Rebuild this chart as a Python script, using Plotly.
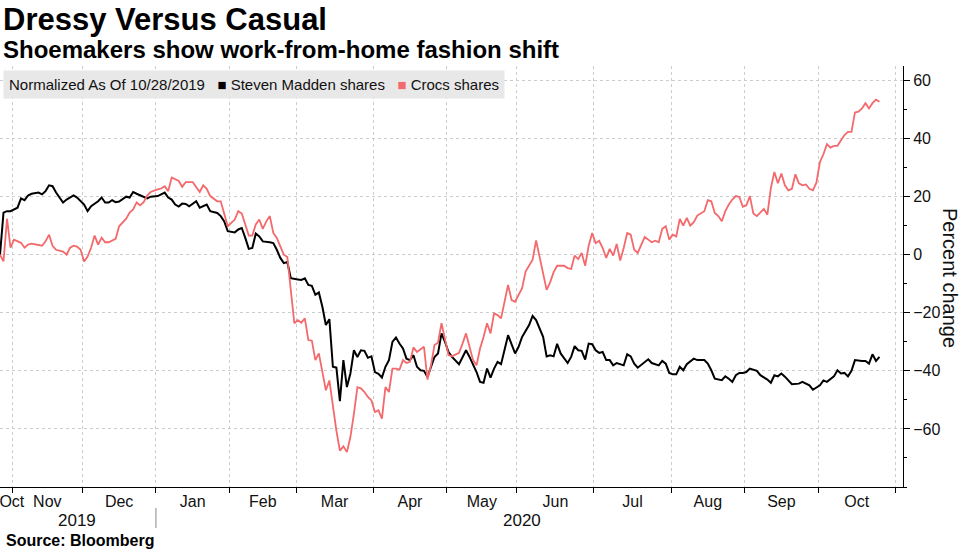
import plotly.graph_objects as go

# ---------------- data ----------------
sm_dates = [
    "2019-10-28", "2019-10-29", "2019-10-30", "2019-10-31",
    "2019-11-04", "2019-11-05", "2019-11-06", "2019-11-07", "2019-11-08", "2019-11-12", "2019-11-13", "2019-11-14",
    "2019-11-15", "2019-11-18", "2019-11-19", "2019-11-20", "2019-11-21", "2019-11-22", "2019-11-26", "2019-11-27",
    "2019-12-02", "2019-12-03", "2019-12-04", "2019-12-06", "2019-12-09", "2019-12-10", "2019-12-11", "2019-12-12",
    "2019-12-13", "2019-12-16", "2019-12-18", "2019-12-19", "2019-12-20", "2019-12-23", "2019-12-26", "2019-12-27",
    "2019-12-30",
    "2020-01-02", "2020-01-03", "2020-01-06", "2020-01-07", "2020-01-08", "2020-01-09", "2020-01-10", "2020-01-13",
    "2020-01-14", "2020-01-15", "2020-01-17", "2020-01-21", "2020-01-23", "2020-01-24", "2020-01-28", "2020-01-29",
    "2020-01-30", "2020-01-31",
    "2020-02-04", "2020-02-05", "2020-02-06", "2020-02-07", "2020-02-10", "2020-02-11", "2020-02-12", "2020-02-13",
    "2020-02-14", "2020-02-19", "2020-02-20", "2020-02-21", "2020-02-24", "2020-02-25", "2020-02-26", "2020-02-27",
    "2020-02-28",
    "2020-03-02", "2020-03-03", "2020-03-04", "2020-03-05", "2020-03-06", "2020-03-09", "2020-03-10", "2020-03-11",
    "2020-03-12", "2020-03-13", "2020-03-16", "2020-03-17", "2020-03-18", "2020-03-19", "2020-03-20", "2020-03-23",
    "2020-03-24", "2020-03-25", "2020-03-26", "2020-03-27", "2020-03-30", "2020-03-31",
    "2020-04-01", "2020-04-02", "2020-04-03", "2020-04-06", "2020-04-07", "2020-04-08", "2020-04-09", "2020-04-13",
    "2020-04-14", "2020-04-15", "2020-04-16", "2020-04-17", "2020-04-20", "2020-04-21", "2020-04-22", "2020-04-23",
    "2020-04-24", "2020-04-27", "2020-04-28", "2020-04-29", "2020-04-30",
    "2020-05-01", "2020-05-04", "2020-05-05", "2020-05-06", "2020-05-08", "2020-05-11", "2020-05-13", "2020-05-14",
    "2020-05-15", "2020-05-18", "2020-05-19", "2020-05-20", "2020-05-21", "2020-05-22", "2020-05-27", "2020-05-28",
    "2020-05-29",
    "2020-06-01", "2020-06-02", "2020-06-04", "2020-06-05", "2020-06-08", "2020-06-10", "2020-06-11", "2020-06-12",
    "2020-06-15", "2020-06-16", "2020-06-17", "2020-06-19", "2020-06-22", "2020-06-23", "2020-06-24", "2020-06-25",
    "2020-06-26", "2020-06-29", "2020-06-30",
    "2020-07-01", "2020-07-02", "2020-07-06", "2020-07-07", "2020-07-08", "2020-07-09", "2020-07-10", "2020-07-14",
    "2020-07-15", "2020-07-16", "2020-07-17", "2020-07-20", "2020-07-22", "2020-07-23", "2020-07-24", "2020-07-28",
    "2020-07-29", "2020-07-30", "2020-07-31",
    "2020-08-03", "2020-08-04", "2020-08-05", "2020-08-06", "2020-08-07", "2020-08-11", "2020-08-12", "2020-08-14",
    "2020-08-17", "2020-08-18", "2020-08-19", "2020-08-21", "2020-08-24", "2020-08-25", "2020-08-26", "2020-08-27",
    "2020-08-28", "2020-08-31",
    "2020-09-01", "2020-09-02", "2020-09-04", "2020-09-08", "2020-09-10", "2020-09-11", "2020-09-14", "2020-09-15",
    "2020-09-16", "2020-09-17", "2020-09-18", "2020-09-21", "2020-09-23", "2020-09-24", "2020-09-28", "2020-09-29",
    "2020-10-01", "2020-10-02", "2020-10-05", "2020-10-07", "2020-10-08", "2020-10-09", "2020-10-12", "2020-10-13",
    "2020-10-14", "2020-10-15", "2020-10-19", "2020-10-20", "2020-10-21", "2020-10-22", "2020-10-23", "2020-10-26",
]
sm_values = [
    0, 14.5, 15, 15,
    16.2, 19.4, 18.8, 20.4, 21, 21.4, 20.8, 21.9,
    23.9, 23.6, 21.4, 19.7, 18, 19, 20.4, 19.7,
    17.3, 15, 16.7, 18.4, 19.7, 18, 18, 18.8,
    18.1, 18.3, 20, 19.7, 21.6, 21, 20, 19.4,
    20,
    20.2, 20.8, 21.4, 19.7, 19, 17.3, 16.6, 17.6,
    17.5, 16.7, 18.4, 16.2, 17.3, 15, 14.4, 13.3,
    11.5, 8.1,
    7.7, 8.7, 9.2, 5.8, 2, 2.3, 7.3, 6.3,
    4.6, 4.3, 4, 1.7, -1.1, -2.9, -2.5, -8.1,
    -8.4,
    -8.5, -8.7, -8.1, -10.4, -10.7, -13.8, -13, -17.9,
    -24.2, -22.2, -38.6, -38.9, -50.4, -36.3, -45.6, -40.9,
    -32.9, -35.2, -32.9, -33.1, -35.5, -35,
    -40.4, -41, -42.3, -38.6, -36.3, -30, -28.5, -30.6,
    -32.3, -35.8, -36.3, -34.6, -38.6, -39.8, -40, -42.1,
    -38.6, -35.2, -34, -27.1, -30,
    -33.5, -35.2, -36.3, -37.7, -32.9, -35.2, -40.4, -43.8,
    -44.1, -39.2, -42.3, -39.2, -36.9, -37.7, -27.7, -30.6,
    -34,
    -31.7, -28.3, -24.2, -21.1, -22.5, -28.3, -35, -34.6,
    -35, -30.7, -34, -37.3, -35.2, -31.5, -32.9, -33.1,
    -36.1, -30.6, -30.8,
    -32.9, -33.8, -33.5, -36.3, -36.3, -38.1, -37.3, -38.1,
    -34.3, -35, -37.5, -38.9, -36.9, -36, -37.3, -38.1,
    -36.6, -37.5, -40.7,
    -41.2, -41.2, -38.6, -39.8, -37.7, -35.8, -36.3, -36.3,
    -37.5, -39.8, -42.7, -43.2, -41.9, -42.7, -43.8, -41.5,
    -40.7, -40.7,
    -40.4, -39.2, -40, -41.5, -43, -44.1, -41.5, -41.9,
    -40.9, -42, -43.3, -44.6, -44.4, -43.8, -45, -46.5,
    -45, -43.3, -43.8, -41.9, -39.8, -40.9, -40.7, -41.9,
    -40, -36.3, -36.6, -36.6, -37.5, -34.3, -36.6, -35.2,
]

crocs_dates = [
    "2019-10-28", "2019-10-29", "2019-10-30", "2019-10-31",
    "2019-11-01", "2019-11-05", "2019-11-06", "2019-11-07", "2019-11-08", "2019-11-12", "2019-11-13", "2019-11-14",
    "2019-11-15", "2019-11-18", "2019-11-19", "2019-11-21", "2019-11-22", "2019-11-25", "2019-11-26", "2019-11-27",
    "2019-11-29",
    "2019-12-02", "2019-12-03", "2019-12-04", "2019-12-05", "2019-12-06", "2019-12-09", "2019-12-10", "2019-12-11",
    "2019-12-13", "2019-12-16", "2019-12-18", "2019-12-19", "2019-12-20", "2019-12-23", "2019-12-24", "2019-12-26",
    "2019-12-27", "2019-12-30",
    "2020-01-02", "2020-01-03", "2020-01-06", "2020-01-07", "2020-01-08", "2020-01-10", "2020-01-13", "2020-01-14",
    "2020-01-16", "2020-01-21", "2020-01-22", "2020-01-23", "2020-01-24", "2020-01-28", "2020-01-29", "2020-01-30",
    "2020-01-31",
    "2020-02-04", "2020-02-05", "2020-02-06", "2020-02-07", "2020-02-10", "2020-02-11", "2020-02-12", "2020-02-13",
    "2020-02-14", "2020-02-18", "2020-02-19", "2020-02-20", "2020-02-21", "2020-02-24", "2020-02-25", "2020-02-26",
    "2020-02-27", "2020-02-28",
    "2020-03-02", "2020-03-03", "2020-03-04", "2020-03-05", "2020-03-06", "2020-03-09", "2020-03-10", "2020-03-11",
    "2020-03-12", "2020-03-13", "2020-03-16", "2020-03-17", "2020-03-18", "2020-03-19", "2020-03-20", "2020-03-23",
    "2020-03-24", "2020-03-25", "2020-03-26", "2020-03-27", "2020-03-30", "2020-03-31",
    "2020-04-01", "2020-04-02", "2020-04-03", "2020-04-06", "2020-04-07", "2020-04-08", "2020-04-09", "2020-04-13",
    "2020-04-14", "2020-04-15", "2020-04-16", "2020-04-17", "2020-04-20", "2020-04-21", "2020-04-22", "2020-04-23",
    "2020-04-24", "2020-04-27", "2020-04-28", "2020-04-29", "2020-04-30",
    "2020-05-01", "2020-05-04", "2020-05-06", "2020-05-07", "2020-05-08", "2020-05-11", "2020-05-12", "2020-05-13",
    "2020-05-14", "2020-05-15", "2020-05-18", "2020-05-19", "2020-05-20", "2020-05-21", "2020-05-22", "2020-05-27",
    "2020-05-28", "2020-05-29",
    "2020-06-01", "2020-06-02", "2020-06-03", "2020-06-05", "2020-06-08", "2020-06-09", "2020-06-10", "2020-06-11",
    "2020-06-12", "2020-06-15", "2020-06-16", "2020-06-18", "2020-06-19", "2020-06-22", "2020-06-23", "2020-06-24",
    "2020-06-25", "2020-06-26", "2020-06-29", "2020-06-30",
    "2020-07-01", "2020-07-02", "2020-07-06", "2020-07-07", "2020-07-08", "2020-07-09", "2020-07-10", "2020-07-13",
    "2020-07-14", "2020-07-15", "2020-07-16", "2020-07-17", "2020-07-20", "2020-07-21", "2020-07-22", "2020-07-23",
    "2020-07-24", "2020-07-27", "2020-07-28", "2020-07-29", "2020-07-30", "2020-07-31",
    "2020-08-03", "2020-08-04", "2020-08-05", "2020-08-06", "2020-08-07", "2020-08-10", "2020-08-11", "2020-08-12",
    "2020-08-14", "2020-08-17", "2020-08-18", "2020-08-19", "2020-08-20", "2020-08-21", "2020-08-24", "2020-08-25",
    "2020-08-26", "2020-08-27", "2020-08-28", "2020-08-31",
    "2020-09-01", "2020-09-02", "2020-09-03", "2020-09-04", "2020-09-08", "2020-09-09", "2020-09-10", "2020-09-11",
    "2020-09-14", "2020-09-15", "2020-09-16", "2020-09-17", "2020-09-18", "2020-09-21", "2020-09-22", "2020-09-23",
    "2020-09-24", "2020-09-25", "2020-09-28", "2020-09-29", "2020-09-30",
    "2020-10-01", "2020-10-02", "2020-10-05", "2020-10-06", "2020-10-07", "2020-10-08", "2020-10-09", "2020-10-12",
    "2020-10-13", "2020-10-14", "2020-10-15", "2020-10-16", "2020-10-19", "2020-10-20", "2020-10-21", "2020-10-22",
    "2020-10-23", "2020-10-26",
]
crocs_values = [
    0, -2.3, 12.4, 2.4,
    5.2, 4.1, 2.4, 3.5, 3.8, 3.5, 3.1, 4.6,
    6.9, 3.1, 1.7, 1.1, 0, 2.4, 3.1, 2.8,
    1.7,
    -2.3, -0.6, 2.4, 6.6, 3.5, 5.9, 4.3, 4.3,
    5.5, 9.8, 12.4, 14.5, 15.6, 18, 17, 18.1,
    20.4, 21.6,
    22.5, 22.8, 23.6, 21.9, 26.6, 25.4, 23.4, 25,
    25, 21.6, 23.9, 22.7, 20.2, 18.4, 18.4, 14.4,
    9.8,
    12.1, 15, 14.2, 10, 6.6, 6.6, 10.4, 12.1,
    8.9, 11.5, 13.3, 7.5, 5.8, 2.9, 0, -0.8,
    -12, -23.6,
    -22.5, -23.4, -21.9, -29.4, -29.6, -36.3, -34, -40.9,
    -46.7, -43.3, -52.5, -60.6, -67.5, -66, -68, -62.8,
    -54.8, -45.6, -46, -47.3, -49, -50.2,
    -54.2, -53.6, -56.5, -45.6, -47.3, -39.2, -39.2, -39.6,
    -36.3, -37.3, -36.9, -31.9, -33.5, -32.7, -31.7, -43,
    -38.1, -31.1, -30.3, -23.6, -28.8,
    -34.6, -35, -33.8, -30.6, -27.1, -31.7, -36.3, -38.1,
    -32.3, -28.3, -23.6, -27.1, -20.2, -20.8, -21.9, -10.4,
    -15.6, -16.2,
    -13.8, -11.5, -5.8, -1.7, 4.9, -1.1, -6.3, -12.1,
    -9.5, -6, -3.8, -3.8, -4.6, -4.9, -0.3, -1.5,
    0.6, -3.8, 3.1, 7.5,
    4, 4.8, 2.3, -1.1, 2, -0.3, 3.7, -2,
    2.3, 7.5, 6.9, 1.7, 0.6, 3.5, 6.1, 5.2,
    4.3, 4.8, 4.3, 8.9, 9.8, 5.2,
    6.9, 6.3, 12.3, 10, 12.7, 10, 11.2, 13.5,
    15, 18.8, 18.4, 14.4, 13.3, 11.5, 15, 17.3,
    19, 20.2, 19.9, 16.5,
    17, 20.2, 14.2, 13.3, 14.4, 15.8, 13.8, 23,
    28.5, 24.6, 28, 23.9, 22.2, 22.7, 27.7, 24.6,
    23.9, 24.2, 22.7, 22.2, 24.8,
    31.9, 34.6, 38.1, 36.9, 37.5, 37.5, 39.2, 41.2,
    42.3, 42.3, 49, 49.3, 50.4, 52.2, 50.4, 52.2,
    53.4, 52.7,
]

# US market holidays in the window (the x axis is a trading-day axis)
market_holidays = ["2019-11-28", "2019-12-25", "2020-01-01", "2020-01-20", "2020-02-17",
                   "2020-04-10", "2020-05-25", "2020-07-03", "2020-09-07"]

# boundaries between months (half a day after each month's last session)
month_bounds = ["2019-10-31 12:00", "2019-11-29 12:00", "2019-12-31 12:00", "2020-01-31 12:00",
                "2020-02-28 12:00", "2020-03-31 12:00", "2020-04-30 12:00", "2020-05-29 12:00",
                "2020-06-30 12:00", "2020-07-31 12:00", "2020-08-31 12:00", "2020-09-30 12:00",
                "2020-10-30 12:00"]
month_label_pos = ["2019-10-31 09:00", "2019-11-14 12:00", "2019-12-16", "2020-01-16", "2020-02-14",
                   "2020-03-16 12:00", "2020-04-16", "2020-05-14 12:00", "2020-06-15 12:00",
                   "2020-07-16 12:00", "2020-08-17", "2020-09-16", "2020-10-15 12:00"]
month_labels = ["Oct", "Nov", "Dec", "Jan", "Feb", "Mar", "Apr", "May", "Jun", "Jul", "Aug", "Sep", "Oct"]
year_label_pos = ["2019-11-27", "2020-06-02"]
year_labels = ["2019", "2020"]
year_separator = "2019-12-31 12:00"

y_major = [-60, -40, -20, 0, 20, 40, 60]
y_minor = [-80, -70, -50, -30, -10, 10, 30, 50]

# ---------------- styling ----------------
W, H = 977, 549
ML, MR, MT, MB = 0, 74, 66, 62
PW, PH = W - ML - MR, H - MT - MB
FONT = "Liberation Sans, Arial, sans-serif"
RED = "#f4696b"
GRID = "#cccccc"
TXT = "#111111"


def px(xp):
    return (xp - ML) / PW


def py(yp):
    return (H - MB - yp) / PH


fig = go.Figure()
fig.add_trace(go.Scatter(x=sm_dates, y=sm_values, mode="lines", name="Steven Madden shares",
                         line=dict(color="#000000", width=2), showlegend=False, hoverinfo="skip"))
fig.add_trace(go.Scatter(x=crocs_dates, y=crocs_values, mode="lines", name="Crocs shares",
                         line=dict(color=RED, width=1.8), showlegend=False, hoverinfo="skip"))

fig.update_layout(
    width=W, height=H,
    margin=dict(l=ML, r=MR, t=MT, b=MB, pad=0),
    paper_bgcolor="white", plot_bgcolor="white",
    font=dict(family=FONT, color=TXT),
    showlegend=False,
    xaxis=dict(
        type="date",
        range=["2019-10-28", "2020-11-03 17:00"],
        rangebreaks=[dict(bounds=["sat", "mon"]), dict(values=market_holidays)],
        tickmode="array", tickvals=month_label_pos, ticktext=month_labels,
        ticks="", showgrid=False, zeroline=False,
        showline=True, linecolor="black", linewidth=1,
        ticklabeloverflow="allow",
        tickfont=dict(family=FONT, size=16, color=TXT),
        minor=dict(tickmode="array", tickvals=month_bounds, ticks="outside", ticklen=5,
                   tickcolor="black", tickwidth=1, showgrid=True, gridcolor=GRID,
                   griddash="dot", gridwidth=1),
    ),
    yaxis=dict(
        side="right", range=[-80, 65],
        tickmode="array", tickvals=y_major,
        ticks="outside", ticklen=6, tickcolor="black", tickwidth=1,
        showline=True, linecolor="black", linewidth=1,
        showgrid=True, gridcolor=GRID, griddash="dot", gridwidth=1,
        zeroline=False,
        tickfont=dict(family=FONT, size=16, color=TXT),
        minor=dict(tickmode="array", tickvals=y_minor, ticks="outside", ticklen=3,
                   tickcolor="black", showgrid=False),
    ),
)

ann = []
ann.append(dict(text="<b>Dressy Versus Casual</b>", xref="paper", yref="paper",
                x=px(1), y=py(0), xanchor="left", yanchor="top", showarrow=False,
                font=dict(family=FONT, size=31, color="black")))
ann.append(dict(text="<b>Shoemakers show work-from-home fashion shift</b>", xref="paper", yref="paper",
                x=px(1), y=py(34), xanchor="left", yanchor="top", showarrow=False,
                font=dict(family=FONT, size=24, color="black")))
legend_text = ("Normalized As Of 10/28/2019\u00a0\u00a0\u00a0"
               "<span style='color:#000000'>\u25a0</span>\u00a0Steven Madden shares\u00a0\u00a0\u00a0"
               "<span style='color:" + RED + "'>\u25a0</span>\u00a0Crocs shares")
ann.append(dict(text=legend_text, xref="paper", yref="paper",
                x=px(3), y=py(70), xanchor="left", yanchor="top", showarrow=False,
                bgcolor="#e8e8e8", borderpad=5,
                font=dict(family=FONT, size=15, color=TXT)))
for pos, lab in zip(year_label_pos, year_labels):
    ann.append(dict(text=lab, xref="x", yref="paper", x=pos, y=py(520), xanchor="center",
                    yanchor="middle", showarrow=False, font=dict(family=FONT, size=17, color=TXT)))
ann.append(dict(text="<b>Source: Bloomberg</b>", xref="paper", yref="paper",
                x=px(4), y=py(540), xanchor="left", yanchor="middle", showarrow=False,
                font=dict(family=FONT, size=16, color="black")))
ann.append(dict(text="Percent change", xref="paper", yref="paper",
                x=px(950), y=py(278), xanchor="center", yanchor="middle", textangle=90,
                showarrow=False, font=dict(family=FONT, size=20, color=TXT)))
fig.update_layout(annotations=ann)

fig.add_shape(type="line", xref="x", yref="paper", x0=year_separator, x1=year_separator,
              y0=py(508), y1=py(528), line=dict(color="#888888", width=1))

fig.write_html("out.html", config={"displayModeBar": False},
               post_script="document.body.style.margin='0';document.body.style.overflow='hidden';")
